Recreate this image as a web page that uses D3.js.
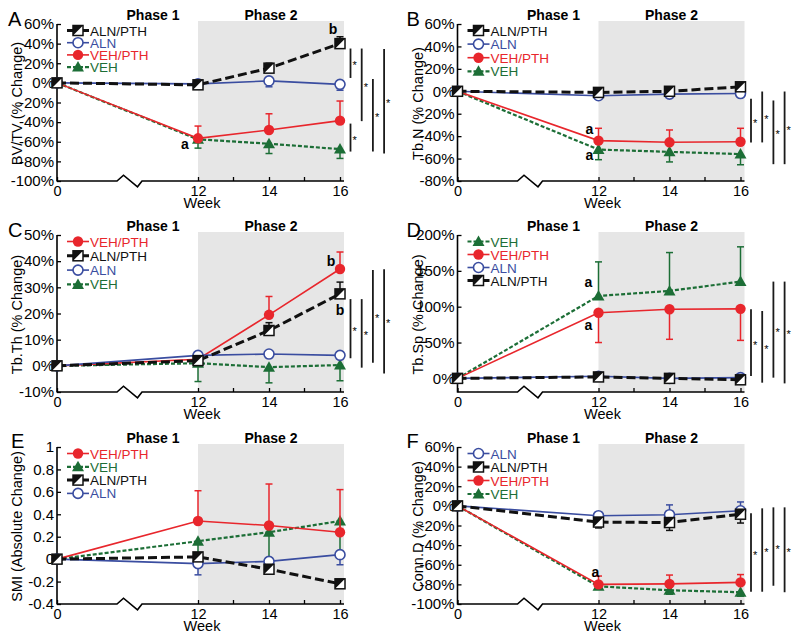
<!DOCTYPE html>
<html><head><meta charset="utf-8">
<script src="https://cdn.jsdelivr.net/npm/d3@7/dist/d3.min.js"></script>
<style>
body{margin:0;background:#fff}
svg{display:block}
text{font-family:"Liberation Sans",Arial,Helvetica,sans-serif}
</style>
</head><body>
<svg id="c" width="800" height="641"></svg>
<script>
// ---------- shared ----------
const WEEKS = [0, 12, 14, 16];
const X_TICKS = [0, 12, 14, 16];
const X_MINOR = [13, 15];
const PHASES = ["Phase 1", "Phase 2"];
const X_TITLE = "Week";

// ---------- Panel A: BV/TV ----------
const A_Y_TICKS = [60, 40, 20, 0, -20, -40, -60, -80, -100];
const A_LEGEND = ["ALN/PTH", "ALN", "VEH/PTH", "VEH"];
const A_ALNPTH = [0, -2, 15, 40],     A_ALNPTH_ERR = [0, 2, 5, 7];
const A_ALN    = [0, -1, 2, -1.5],    A_ALN_ERR    = [0, 2, 6, 6];
const A_VEHPTH = [0, -56.5, -48, -38.5], A_VEHPTH_ERR = [0, 12.5, 16.5, 20];
const A_VEH    = [0, -57.5, -62, -67.5], A_VEH_ERR    = [0, 9, 10, 9.5];
const A_BRACKETS = [[35, 5, 0], [35, -39, 1], [4, -70, 2], [34.5, -72, 3], [-41.5, -70, 0]];
const A_NOTES = [["a", 12, -62, -13], ["b", 16, 55, -7]];

// ---------- Panel B: Tb.N ----------
const B_Y_TICKS = [60, 40, 20, 0, -20, -40, -60, -80];
const B_LEGEND = ["ALN/PTH", "ALN", "VEH/PTH", "VEH"];
const B_ALNPTH = [0, -1, 0, 4],        B_ALNPTH_ERR = [0, 2, 2, 3];
const B_ALN    = [0, -4, -2.5, -2],    B_ALN_ERR    = [0, 2, 2, 2];
const B_VEHPTH = [0, -44, -45.5, -45], B_VEHPTH_ERR = [0, 11, 11, 12];
const B_VEH    = [0, -52, -54, -56],   B_VEH_ERR    = [0, 9, 9, 9.5];
const B_BRACKETS = [[-6.7, -45.6, 0], [-0.2, -45.6, 1], [-8.2, -65, 2], [-0.2, -65, 3]];
const B_NOTES = [["a", 12, -33.6, -9], ["a", 12, -56.7, -9]];

// ---------- Panel C: Tb.Th ----------
const C_Y_TICKS = [50, 40, 30, 20, 10, 0, -10];
const C_LEGEND = ["VEH/PTH", "ALN/PTH", "ALN", "VEH"];
const C_ALNPTH = [0, 2, 13.5, 27.5],   C_ALNPTH_ERR = [0, 1, 3, 4.5];
const C_ALN    = [0, 4, 4.5, 4],       C_ALN_ERR    = [0, 1, 1, 1];
const C_VEHPTH = [0, 2.5, 19.5, 37],   C_VEHPTH_ERR = [0, 1, 7, 6.5];
const C_VEH    = [0, 1, -0.5, 0.3],    C_VEH_ERR    = [0, 7, 6, 6];
const C_BRACKETS = [[25.5, 2.9, 0], [25.5, -0.7, 1], [36.6, 1.2, 2], [36.9, -2.9, 3]];
const C_NOTES = [["b", 16, 40.2, -9], ["b", 16, 21.3, 0]];

// ---------- Panel D: Tb.Sp ----------
const D_Y_TICKS = [200, 150, 100, 50, 0];
const D_LEGEND = ["VEH", "VEH/PTH", "ALN", "ALN/PTH"];
const D_ALNPTH = [0, 2, 0, -2],        D_ALNPTH_ERR = [0, 2, 2, 2];
const D_ALN    = [0, 3, 0, 1],         D_ALN_ERR    = [0, 2, 2, 2];
const D_VEHPTH = [0, 91.5, 96.5, 97],  D_VEHPTH_ERR = [0, 41.5, 42, 44];
const D_VEH    = [0, 115, 122, 135],   D_VEH_ERR    = [0, 47.5, 53.5, 48.5];
const D_BRACKETS = [[96.5, 3.2, 0], [94, -6, 1], [135, 1, 2], [135, -7, 3]];
const D_NOTES = [["a", 12, 134.7, -10], ["a", 12, 74.1, -10]];

// ---------- Panel E: SMI ----------
const E_Y_TICKS = [1, 0.8, 0.6, 0.4, 0.2, 0, -0.2, -0.4];
const E_LEGEND = ["VEH/PTH", "VEH", "ALN/PTH", "ALN"];
const E_ALNPTH = [0, 0.02, -0.09, -0.22], E_ALNPTH_ERR = [0, 0.02, 0.02, 0.04];
const E_ALN    = [0, -0.04, -0.02, 0.04], E_ALN_ERR    = [0, 0.1, 0.04, 0.09];
const E_VEHPTH = [0, 0.34, 0.30, 0.24],   E_VEHPTH_ERR = [0, 0.27, 0.37, 0.38];
const E_VEH    = [0, 0.16, 0.24, 0.34],   E_VEH_ERR    = [0, 0.17, 0.25, 0.3];
const E_BRACKETS = [];
const E_NOTES = [];

// ---------- Panel F: Conn.D ----------
const F_Y_TICKS = [60, 40, 20, 0, -20, -40, -60, -80, -100];
const F_LEGEND = ["ALN", "ALN/PTH", "VEH/PTH", "VEH"];
const F_ALNPTH = [0, -16.5, -17, -8.5], F_ALNPTH_ERR = [0, 6, 8, 9];
const F_ALN    = [0, -10, -9, -5],      F_ALN_ERR    = [0, 4, 10, 9];
const F_VEHPTH = [0, -80, -79.5, -78],  F_VEHPTH_ERR = [0, 8.5, 9, 8];
const F_VEH    = [0, -82, -86, -88],    F_VEH_ERR    = [0, 3, 4, 4];
const F_BRACKETS = [[-7.6, -87.5, 0], [-2.5, -87.5, 1], [-1.5, -81.4, 2], [-1.5, -88, 3]];
const F_NOTES = [["a", 12, -67.1, -3]];

// ---------- styles ----------
const STYLE = {
  "ALN/PTH": {color: "#111111", width: 3,   dash: "9,4", marker: "halfsquare"},
  "ALN":     {color: "#3a4da0", width: 1.6, dash: null,  marker: "opencircle"},
  "VEH/PTH": {color: "#e8262c", width: 1.6, dash: null,  marker: "circle"},
  "VEH":     {color: "#1c6e36", width: 2.2, dash: "4,2", marker: "triangle"}
};
const DRAW_ORDER = ["VEH", "VEH/PTH", "ALN", "ALN/PTH"];

const pct = d => d + "%";
const num = d => String(+d.toFixed(1));

function mk(letter, col, row, title, domain, ticks, fmt, legend, gap, s, e, dirs, brackets, notes) {
  return {letter, col, row, title, domain, ticks, fmt, legend, gap,
    series: {"ALN/PTH": [s[0], e[0], dirs[0]], "ALN": [s[1], e[1], dirs[1]],
             "VEH/PTH": [s[2], e[2], dirs[2]], "VEH": [s[3], e[3], dirs[3]]},
    brackets, notes};
}

const panels = [
  mk("A", 0, 0, "BV/TV (% Change)", [-100, 60], A_Y_TICKS, pct, A_LEGEND, 12.2,
     [A_ALNPTH, A_ALN, A_VEHPTH, A_VEH], [A_ALNPTH_ERR, A_ALN_ERR, A_VEHPTH_ERR, A_VEH_ERR],
     [1, -1, 1, -1], A_BRACKETS, A_NOTES),
  mk("B", 1, 0, "Tb.N (% Change)", [-80, 60], B_Y_TICKS, pct, B_LEGEND, 13.6,
     [B_ALNPTH, B_ALN, B_VEHPTH, B_VEH], [B_ALNPTH_ERR, B_ALN_ERR, B_VEHPTH_ERR, B_VEH_ERR],
     [1, -1, 1, -1], B_BRACKETS, B_NOTES),
  mk("C", 0, 1, "Tb.Th (% Change)", [-10, 50], C_Y_TICKS, pct, C_LEGEND, 14.3,
     [C_ALNPTH, C_ALN, C_VEHPTH, C_VEH], [C_ALNPTH_ERR, C_ALN_ERR, C_VEHPTH_ERR, C_VEH_ERR],
     [1, -1, 1, -1], C_BRACKETS, C_NOTES),
  mk("D", 1, 1, "Tb.Sp (% Change)", [-19, 200], D_Y_TICKS, pct, D_LEGEND, 13,
     [D_ALNPTH, D_ALN, D_VEHPTH, D_VEH], [D_ALNPTH_ERR, D_ALN_ERR, D_VEHPTH_ERR, D_VEH_ERR],
     [-1, 1, -1, 1], D_BRACKETS, D_NOTES),
  mk("E", 0, 2, "SMI (Absolute Change)", [-0.4, 1], E_Y_TICKS, num, E_LEGEND, 13.3,
     [E_ALNPTH, E_ALN, E_VEHPTH, E_VEH], [E_ALNPTH_ERR, E_ALN_ERR, E_VEHPTH_ERR, E_VEH_ERR],
     [1, -1, 1, -1], E_BRACKETS, E_NOTES),
  mk("F", 1, 2, "Conn.D (% Change)", [-100, 60], F_Y_TICKS, pct, F_LEGEND, 13.5,
     [F_ALNPTH, F_ALN, F_VEHPTH, F_VEH], [F_ALNPTH_ERR, F_ALN_ERR, F_VEHPTH_ERR, F_VEH_ERR],
     [-1, 1, 1, -1], F_BRACKETS, F_NOTES)
];

const svg = d3.select("#c");
const COL_X = [0, 400.5], ROW_Y = [0, 211, 423];
const LETTER_DX = {A: 8, B: 6, C: 8, D: 6, E: 11, F: 6};

function drawMarker(g, type, color, cx, cy) {
  if (type === "circle") {
    g.append("circle").attr("cx", cx).attr("cy", cy).attr("r", 5.2).attr("fill", color);
  } else if (type === "opencircle") {
    g.append("circle").attr("cx", cx).attr("cy", cy).attr("r", 5).attr("fill", "#fff")
      .attr("stroke", color).attr("stroke-width", 1.6);
  } else if (type === "triangle") {
    g.append("path").attr("d", `M${cx},${cy - 6}L${cx + 6},${cy + 4.5}L${cx - 6},${cy + 4.5}Z`)
      .attr("fill", color);
  } else {
    const h = 5;
    g.append("rect").attr("x", cx - h).attr("y", cy - h).attr("width", 2 * h).attr("height", 2 * h)
      .attr("fill", "#fff").attr("stroke", color).attr("stroke-width", 1.5);
    g.append("path").attr("d", `M${cx - h},${cy - h}L${cx + h},${cy - h}L${cx - h},${cy + h}Z`)
      .attr("fill", color);
  }
}

panels.forEach(p => {
  const g = svg.append("g").attr("transform", `translate(${COL_X[p.col]},${ROW_Y[p.row]})`);
  const x = d3.scaleLinear().domain([0, 12, 16]).range([57, 198, 340]);
  const y = d3.scaleLinear().domain(p.domain).range([181, 24]);
  const xEnd = x(16) + 4;

  // phase 2 shade
  g.append("rect").attr("x", x(12)).attr("y", 21).attr("width", xEnd - x(12)).attr("height", 181 - 21)
    .attr("fill", "#e6e6e6");

  // y axis
  const ya = d3.axisLeft(y).tickValues(p.ticks).tickFormat(p.fmt).tickSize(-4).tickSizeOuter(0).tickPadding(3);
  const yg = g.append("g").attr("transform", `translate(${x(0)},0)`).call(ya);
  yg.select(".domain").remove();
  yg.selectAll(".tick line").attr("stroke", "#000").attr("stroke-width", 1.3);
  yg.selectAll("text").attr("font-size", 15).attr("fill", "#000")
    .style("font-family", '"Liberation Sans",Arial,sans-serif');
  g.append("line").attr("x1", x(0)).attr("x2", x(0)).attr("y1", 24).attr("y2", 181.6)
    .attr("stroke", "#000").attr("stroke-width", 1.6);

  // x axis
  const xa = d3.axisBottom(x).tickValues(X_TICKS).tickFormat(d3.format("d")).tickSize(-4).tickPadding(4.5);
  const xg = g.append("g").attr("transform", `translate(0,181)`).call(xa);
  xg.select(".domain").remove();
  xg.selectAll(".tick line").attr("stroke", "#000").attr("stroke-width", 1.3);
  xg.selectAll("text").attr("font-size", 14.5).attr("fill", "#000")
    .style("font-family", '"Liberation Sans",Arial,sans-serif');
  X_MINOR.forEach(w => g.append("line").attr("x1", x(w)).attr("x2", x(w)).attr("y1", 181).attr("y2", 177)
    .attr("stroke", "#000").attr("stroke-width", 1.3));
  const bx = x(0) + 60;
  g.append("path")
    .attr("d", `M${x(0)},181H${bx}L${bx + 6.5},175.2L${bx + 20.5},186.8L${bx + 25},181H${xEnd}`)
    .attr("fill", "none").attr("stroke", "#000").attr("stroke-width", 1.6);

  // titles
  g.append("text").attr("x", 202).attr("y", 208).attr("text-anchor", "middle").attr("font-size", 14.5)
    .text(X_TITLE);
  g.append("text").attr("transform", `translate(22,${(24 + 181) / 2 + 1}) rotate(-90)`)
    .attr("text-anchor", "middle").attr("font-size", 14.5).text(p.title);
  g.append("text").attr("x", LETTER_DX[p.letter]).attr("y", p.row === 2 ? 25 : 26).attr("font-size", 20)
    .text(p.letter);
  g.append("text").attr("x", x(12) - 45).attr("y", 20).attr("text-anchor", "middle")
    .attr("font-size", 14).attr("font-weight", "bold").text(PHASES[0]);
  g.append("text").attr("x", (x(12) + xEnd) / 2).attr("y", 20).attr("text-anchor", "middle")
    .attr("font-size", 14).attr("font-weight", "bold").text(PHASES[1]);

  // series
  const line = d3.line().x(d => x(d[0])).y(d => y(d[1]));
  DRAW_ORDER.forEach(name => {
    const st = STYLE[name];
    const [vals, errs, dir] = p.series[name];
    const pts = WEEKS.map((w, i) => [w, vals[i], errs[i]]);
    const sg = g.append("g");
    pts.forEach(d => {
      if (!d[2]) return;
      const y0 = y(d[1]), y1 = y(d[1] + dir * d[2]);
      sg.append("line").attr("x1", x(d[0])).attr("x2", x(d[0])).attr("y1", y0).attr("y2", y1)
        .attr("stroke", st.color).attr("stroke-width", 1.5);
      sg.append("line").attr("x1", x(d[0]) - 3.5).attr("x2", x(d[0]) + 3.5).attr("y1", y1).attr("y2", y1)
        .attr("stroke", st.color).attr("stroke-width", 1.5);
    });
    sg.append("path").attr("d", line(pts)).attr("fill", "none").attr("stroke", st.color)
      .attr("stroke-width", st.width).attr("stroke-dasharray", st.dash);
    pts.forEach(d => drawMarker(sg, st.marker, st.color, x(d[0]), y(d[1])));
  });

  // legend
  p.legend.forEach((name, i) => {
    const st = STYLE[name];
    const ly = 30.5 + i * p.gap;
    const lg = g.append("g");
    lg.append("line").attr("x1", 67).attr("x2", 89).attr("y1", ly).attr("y2", ly)
      .attr("stroke", st.color).attr("stroke-width", st.width).attr("stroke-dasharray", st.dash);
    drawMarker(lg, st.marker, st.color, 78, ly);
    lg.append("text").attr("x", 90).attr("y", ly + 5).attr("font-size", 13.5).attr("fill", st.color)
      .text(name);
  });

  // significance brackets
  p.brackets.forEach(b => {
    const bx2 = x(16) + 10.5 + b[2] * 11.2;
    const ya1 = y(b[0]), ya2 = y(b[1]);
    g.append("line").attr("x1", bx2).attr("x2", bx2).attr("y1", ya1).attr("y2", ya2)
      .attr("stroke", "#1a1a1a").attr("stroke-width", 1.8);
    g.append("text").attr("x", bx2 + 2).attr("y", (ya1 + ya2) / 2 + 6).attr("font-size", 11)
      .attr("fill", "#000").text("*");
  });

  // letter notes
  p.notes.forEach(n => {
    g.append("text").attr("x", x(n[1]) + n[3]).attr("y", y(n[2]) + 5).attr("text-anchor", "middle")
      .attr("font-size", 14).attr("font-weight", "bold").text(n[0]);
  });
});
</script>
</body></html>
